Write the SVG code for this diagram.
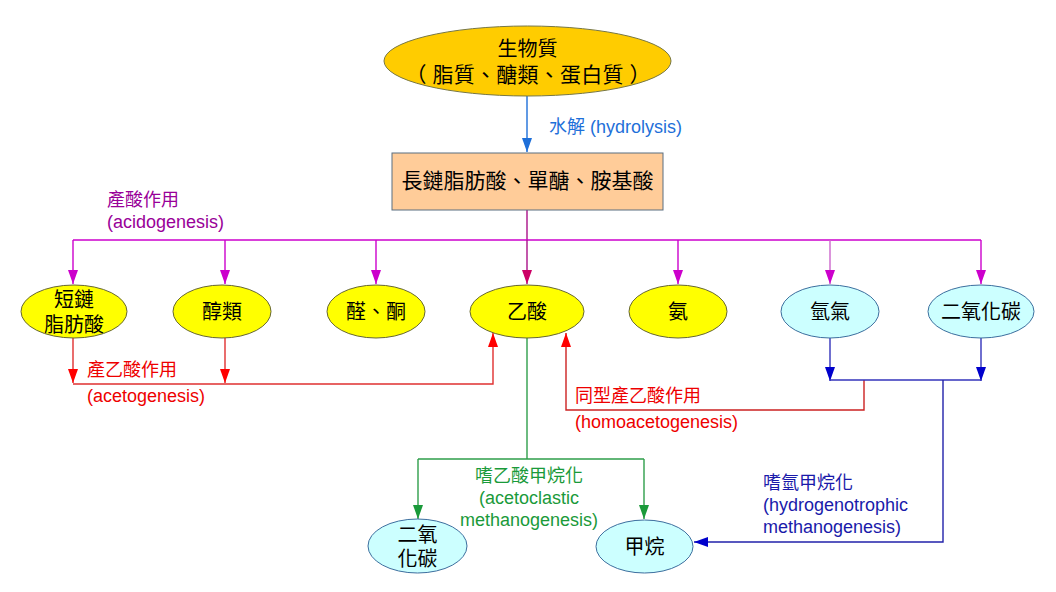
<svg xmlns="http://www.w3.org/2000/svg" width="1056" height="592" viewBox="0 0 1056 592" lang="zh-TW" xml:lang="zh-TW">
<style>
text{font-family:"Liberation Sans","Noto Sans CJK TC",sans-serif}
.n{font-size:20px;fill:#000;text-anchor:middle}
.cj{font-family:"Noto Sans CJK TC",sans-serif}
.l{font-size:18px}
.y{fill:#ffff00;stroke:#666633;stroke-width:1}
.c{fill:#ccffff;stroke:#3c6e9e;stroke-width:1}
.ln{fill:none;stroke-width:1.4}
</style>
<defs>
<marker id="mB" markerUnits="userSpaceOnUse" markerWidth="14" markerHeight="10" refX="14" refY="5" orient="auto"><path d="M0,0L14,5L0,10z" fill="#1e6fd9"/></marker>
<marker id="mP" markerUnits="userSpaceOnUse" markerWidth="14" markerHeight="10" refX="14" refY="5" orient="auto"><path d="M0,0L14,5L0,10z" fill="#cc00cc"/></marker>
<marker id="mC" markerUnits="userSpaceOnUse" markerWidth="14" markerHeight="10" refX="14" refY="5" orient="auto"><path d="M0,0L14,5L0,10z" fill="#cc0066"/></marker>
<marker id="mR" markerUnits="userSpaceOnUse" markerWidth="14" markerHeight="10" refX="14" refY="5" orient="auto"><path d="M0,0L14,5L0,10z" fill="#ff0000"/></marker>
<marker id="mD" markerUnits="userSpaceOnUse" markerWidth="14" markerHeight="10" refX="14" refY="5" orient="auto"><path d="M0,0L14,5L0,10z" fill="#0000cc"/></marker>
<marker id="mG" markerUnits="userSpaceOnUse" markerWidth="14" markerHeight="10" refX="14" refY="5" orient="auto"><path d="M0,0L14,5L0,10z" fill="#1a9a3a"/></marker>
</defs>
<rect width="1056" height="592" fill="#fff"/>
<g id="connectors">
<path class="ln" stroke="#1e6fd9" d="M527,96V152" marker-end="url(#mB)"/>
<path class="ln" stroke="#aa1188" d="M527,210V240"/>
<path class="ln" stroke="#cc00cc" d="M73,240H981"/>
<path class="ln" stroke="#cc00cc" d="M73,240V284" marker-end="url(#mP)"/>
<path class="ln" stroke="#cc00cc" d="M225,240V284" marker-end="url(#mP)"/>
<path class="ln" stroke="#cc00cc" d="M376,240V284" marker-end="url(#mP)"/>
<path class="ln" stroke="#aa1188" d="M527,240V284" marker-end="url(#mC)"/>
<path class="ln" stroke="#cc00cc" d="M678,240V284" marker-end="url(#mP)"/>
<path class="ln" stroke="#cc66cc" d="M830,240V284" marker-end="url(#mP)"/>
<path class="ln" stroke="#cc00cc" d="M981,240V284" marker-end="url(#mP)"/>
<path class="ln" stroke="#e03030" d="M73,338V383" marker-end="url(#mR)"/>
<path class="ln" stroke="#e03030" d="M225,338V383" marker-end="url(#mR)"/>
<path class="ln" stroke="#e03030" d="M73,384H493V333" marker-end="url(#mR)"/>
<path class="ln" stroke="#cc2222" d="M864,380V410H566V333" marker-end="url(#mR)"/>
<path class="ln" stroke="#3333bb" d="M830,338V381" marker-end="url(#mD)"/>
<path class="ln" stroke="#3333bb" d="M981,338V381" marker-end="url(#mD)"/>
<path class="ln" stroke="#3333bb" d="M830,380H981"/>
<path class="ln" stroke="#2222aa" d="M943,380V542H694" marker-end="url(#mD)"/>
<path class="ln" stroke="#2e9e4a" d="M527,338V459"/>
<path class="ln" stroke="#2e9e4a" d="M418,459H644"/>
<path class="ln" stroke="#2e9e4a" d="M418,459V519" marker-end="url(#mG)"/>
<path class="ln" stroke="#2e9e4a" d="M644,459V519" marker-end="url(#mG)"/>
</g>
<g id="labels">
<text class="l" x="549" y="133" fill="#1e6fd9">水解 (hydrolysis)</text>
<text class="l" x="107" y="206" fill="#990099">產酸作用</text>
<text class="l" x="107" y="228" fill="#990099">(acidogenesis)</text>
<text class="l" x="87" y="376" fill="#ee0000">產乙酸作用</text>
<text class="l" x="87" y="402" fill="#ee0000">(acetogenesis)</text>
<text class="l" x="575" y="402" fill="#ee0000">同型產乙酸作用</text>
<text class="l" x="575" y="428" fill="#ee0000">(homoacetogenesis)</text>
<text class="l" x="529" y="482" fill="#1a9a3a" text-anchor="middle">嗜乙酸甲烷化</text>
<text class="l" x="529" y="504" fill="#1a9a3a" text-anchor="middle">(acetoclastic</text>
<text class="l" x="529" y="526" fill="#1a9a3a" text-anchor="middle">methanogenesis)</text>
<text class="l" x="763" y="489" fill="#1a1aaa">嗜氫甲烷化</text>
<text class="l" x="763" y="511" fill="#1a1aaa">(hydrogenotrophic</text>
<text class="l" x="763" y="533" fill="#1a1aaa">methanogenesis)</text>
</g>
<g id="biomass">
<ellipse cx="527.5" cy="61" rx="143.5" ry="35" fill="#ffcc00" stroke="#777744" stroke-width="1"/>
<text class="n" x="527.5" y="56">生物質</text>
<text class="n cj" y="82" style="font-size:21px"><tspan x="416">（</tspan><tspan x="443">脂</tspan><tspan x="464.25">質</tspan><tspan x="485.5">、</tspan><tspan x="506.75">醣</tspan><tspan x="528">類</tspan><tspan x="549.25">、</tspan><tspan x="570.5">蛋</tspan><tspan x="591.75">白</tspan><tspan x="613">質</tspan><tspan x="640">）</tspan></text>
</g>
<g id="monomers">
<rect x="392" y="153" width="271" height="57" fill="#ffcc99" stroke="#5a6e80" stroke-width="1"/>
<text class="n cj" y="188" style="font-size:21px"><tspan x="412">長</tspan><tspan x="433">鏈</tspan><tspan x="454">脂</tspan><tspan x="475">肪</tspan><tspan x="496">酸</tspan><tspan x="517">、</tspan><tspan x="538">單</tspan><tspan x="559">醣</tspan><tspan x="580">、</tspan><tspan x="601">胺</tspan><tspan x="622">基</tspan><tspan x="643">酸</tspan></text>
</g>
<g id="scfa">
<ellipse class="y" cx="74" cy="311.5" rx="53" ry="26.5"/>
<text class="n" x="74" y="307">短鏈</text>
<text class="n" x="74" y="332">脂肪酸</text>
</g>
<g id="alcohols">
<ellipse class="y" cx="222" cy="311.5" rx="49" ry="26.5"/>
<text class="n" x="222" y="319">醇類</text>
</g>
<g id="aldehydes">
<ellipse class="y" cx="376" cy="311.5" rx="49" ry="26.5"/>
<text class="n cj" y="319"><tspan x="356">醛</tspan><tspan x="376">、</tspan><tspan x="396">酮</tspan></text>
</g>
<g id="acetate">
<ellipse class="y" cx="527" cy="311.5" rx="57" ry="26.5"/>
<text class="n" x="527" y="319">乙酸</text>
</g>
<g id="ammonia">
<ellipse class="y" cx="678" cy="311.5" rx="49" ry="26.5"/>
<text class="n" x="678" y="319">氨</text>
</g>
<g id="hydrogen">
<ellipse class="c" cx="830" cy="311.5" rx="49" ry="26.5"/>
<text class="n" x="830" y="319">氫氣</text>
</g>
<g id="co2">
<ellipse class="c" cx="981" cy="311.5" rx="53" ry="26.5"/>
<text class="n" x="981" y="319">二氧化碳</text>
</g>
<g id="co2-out">
<ellipse class="c" cx="417.5" cy="546" rx="49.5" ry="27"/>
<text class="n" x="417.5" y="542">二氧</text>
<text class="n" x="417.5" y="566">化碳</text>
</g>
<g id="methane">
<ellipse class="c" cx="644.5" cy="546.5" rx="48.5" ry="26.5"/>
<text class="n" x="644.5" y="554">甲烷</text>
</g>
</svg>
